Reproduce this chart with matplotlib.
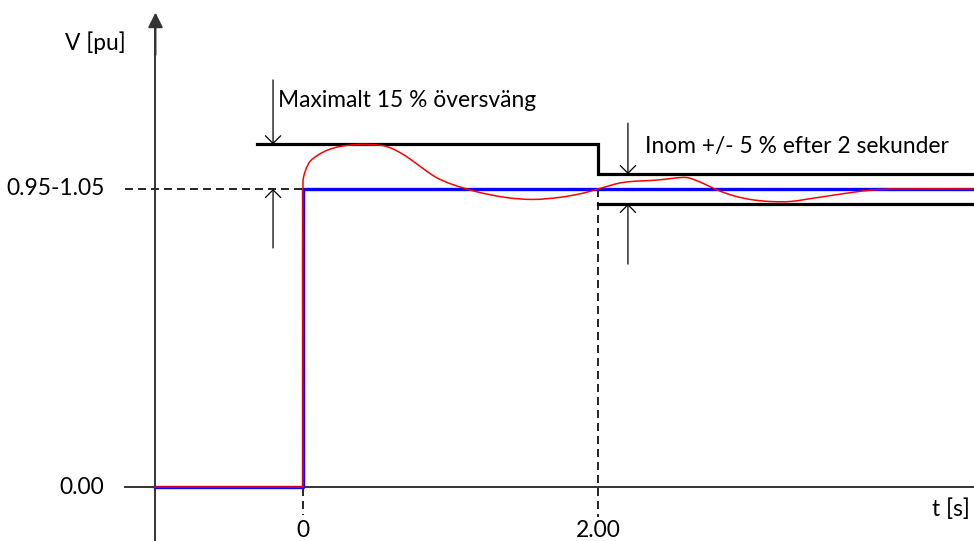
import matplotlib
matplotlib.use("Agg")
import matplotlib.pyplot as plt
import numpy as np
from matplotlib.path import Path
from matplotlib.patches import PathPatch

plt.rcParams['font.family'] = ['Lato', 'DejaVu Sans']

# ---- data ----
t_ref = [-1.0, 0.0, 0.0, 4.55]
v_ref = [0.0, 0.0, 1.0, 1.0]

t_resp = [-1.0, 0.0, 0.0, 0.014, 0.047, 0.102, 0.169, 0.264, 0.400, 0.536, 0.603,
          0.692, 0.780, 0.895, 0.997, 1.098, 1.200, 1.383, 1.559, 1.742, 1.898,
          2.014, 2.169, 2.400, 2.576, 2.624, 2.712, 2.807, 2.915, 3.031, 3.166,
          3.302, 3.458, 3.688, 3.864, 4.027, 4.55]
v_resp = [0.0, 0.0, 1.024, 1.058, 1.092, 1.114, 1.131, 1.144, 1.150, 1.146, 1.136,
          1.112, 1.081, 1.041, 1.018, 1.002, 0.988, 0.971, 0.965, 0.972, 0.986,
          1.002, 1.022, 1.030, 1.039, 1.036, 1.019, 0.997, 0.978, 0.965, 0.958,
          0.958, 0.969, 0.986, 0.997, 1.000, 1.000]

t_upper = [-0.31, 2.0, 2.0, 4.55]
v_upper = [1.15, 1.15, 1.05, 1.05]
t_lower = [2.0, 4.55]
v_lower = [0.95, 0.95]

x_ticks = [0.0, 2.0]
x_tick_labels = ["0", "2.00"]
y_ticks = [0.0, 1.0]
y_tick_labels = ["0.00", "0.95-1.05"]

# ---- figure ----
fig = plt.figure(figsize=(9.74, 5.41), dpi=100)
ax = fig.add_axes([0, 0, 1, 1])
ax.set_xlim(-2.0542, 4.5492)
ax.set_ylim(-0.1812, 1.6342)
ax.axis('off')

axis_col = '#333333'
fs = 16.4

# axes
ax.plot([-1.207, 4.55], [0, 0], color=axis_col, lw=1.4, zorder=2)
ax.annotate('', xy=(4.61, 0), xytext=(4.4, 0),
            arrowprops=dict(arrowstyle='-|>,head_length=0.9,head_width=0.45',
                            color=axis_col, lw=1.4, shrinkA=0, shrinkB=0))
ax.plot([-1.0, -1.0], [-0.2, 1.55], color=axis_col, lw=1.4, zorder=2)
ax.annotate('', xy=(-1.0, 1.592), xytext=(-1.0, 1.45),
            arrowprops=dict(arrowstyle='-|>,head_length=0.9,head_width=0.45',
                            color=axis_col, lw=1.4, shrinkA=0, shrinkB=0))

dash = (0, (4.8, 3.0))
# dashed guide lines
ax.plot([-1.207, 0.0], [y_ticks[1], y_ticks[1]], color='black', lw=1.2, ls=dash, zorder=1)
ax.plot([x_ticks[0], x_ticks[0]], [1.0, -0.095], color='black', lw=1.2, ls=dash, zorder=1)
ax.plot([x_ticks[1], x_ticks[1]], [1.0, -0.10], color='black', lw=1.2, ls=dash, zorder=1)

# limit lines
ax.plot(t_upper, v_upper, color='black', lw=2.3, solid_joinstyle='miter', zorder=3)
ax.plot(t_lower, v_lower, color='black', lw=2.3, zorder=3)

# reference
ax.plot(t_ref, v_ref, color='#0000FF', lw=2.4, zorder=4)

# response: flat part straight, then a smooth curve through the read points
ax.plot(t_resp[:2], v_resp[:2], color='#FF0000', lw=1.1, zorder=5)
sx, sy = 147.5, 298.0  # approx px per data unit, only to shape tangents
P = np.column_stack([np.array(t_resp[1:]) * sx, np.array(v_resp[1:]) * sy])
n = len(P)
D = np.zeros_like(P)
for i in range(n):
    if i == 0:
        d = P[1] - P[0]
    elif i == n - 1:
        d = P[-1] - P[-2]
    else:
        d = P[i + 1] - P[i - 1]
    D[i] = d / np.hypot(*d)
verts = [P[0]]
codes = [Path.MOVETO]
for i in range(n - 1):
    L = np.hypot(*(P[i + 1] - P[i]))
    verts += [P[i] + D[i] * L / 3, P[i + 1] - D[i + 1] * L / 3, P[i + 1]]
    codes += [Path.CURVE4] * 3
verts = np.array(verts) / np.array([sx, sy])
ax.add_patch(PathPatch(Path(verts, codes), fill=False, edgecolor='#FF0000',
                       lw=1.1, zorder=5))

# annotation arrows
ap = dict(arrowstyle='->,head_length=0.55,head_width=0.55', color='black',
          lw=0.9, shrinkA=0, shrinkB=0)
ax.annotate('', xy=(-0.203, 1.15), xytext=(-0.203, 1.366), arrowprops=ap)
ax.annotate('', xy=(-0.203, 1.0), xytext=(-0.203, 0.802), arrowprops=ap)
ax.annotate('', xy=(2.203, 1.05), xytext=(2.203, 1.221), arrowprops=ap)
ax.annotate('', xy=(2.203, 0.95), xytext=(2.203, 0.748), arrowprops=ap)

# texts
ax.text(-0.169, 1.275, "Maximalt 15 % översväng", fontsize=fs, va='baseline', ha='left')
ax.text(2.319, 1.12, "Inom +/- 5 % efter 2 sekunder", fontsize=fs, va='baseline', ha='left')
ax.text(-1.41, 1.49, "V [pu]", fontsize=fs, va='center', ha='center')
ax.text(4.522, -0.075, "t [s]", fontsize=fs, va='center', ha='right')

for yv, lab in zip(y_ticks, y_tick_labels):
    ax.text(-1.345, yv, lab, fontsize=fs, va='center', ha='right')
for xv, lab in zip(x_ticks, x_tick_labels):
    ax.text(xv, -0.145, lab, fontsize=fs, va='center', ha='center')

fig.savefig('out.png', dpi=100)
